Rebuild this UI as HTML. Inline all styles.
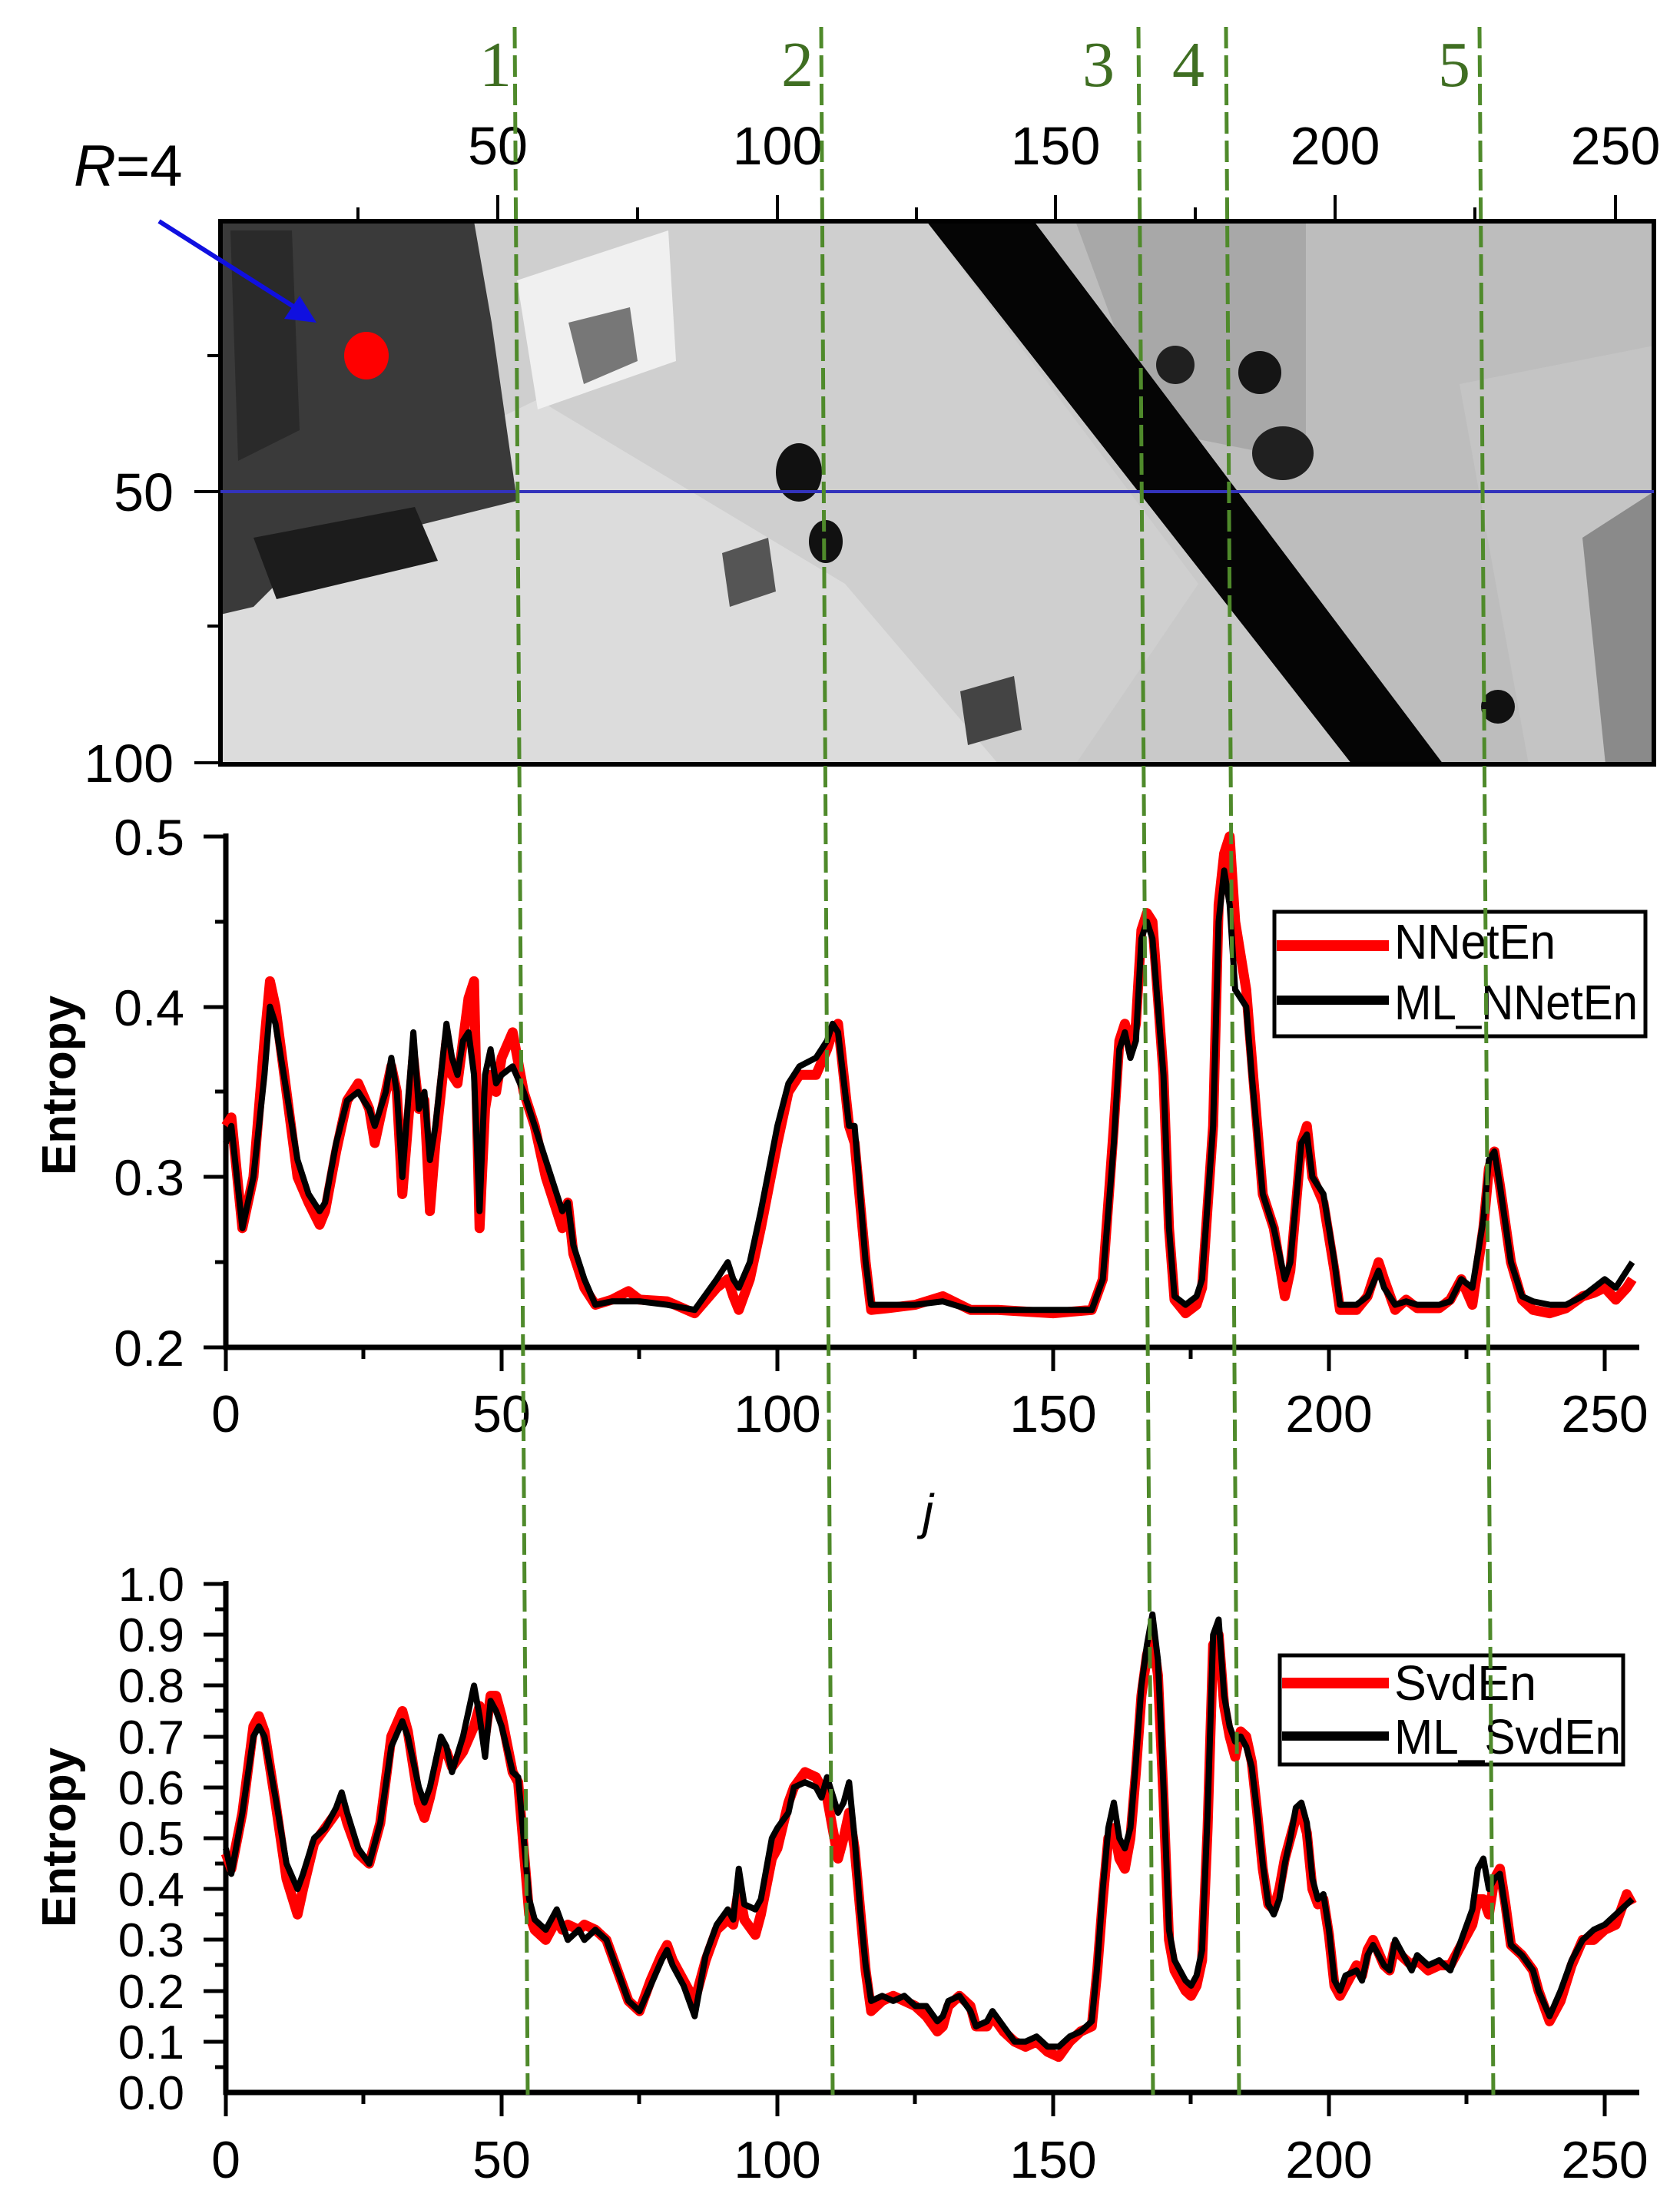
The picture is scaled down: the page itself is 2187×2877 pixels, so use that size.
<!DOCTYPE html>
<html><head><meta charset="utf-8"><style>
html,body{margin:0;padding:0;background:#fff;}
svg{display:block;}
text{font-family:"Liberation Sans",sans-serif;}
</style></head><body>
<svg width="2187" height="2877" viewBox="0 0 2187 2877" xmlns="http://www.w3.org/2000/svg">
<!-- satellite image approximation -->
<g>
<rect x="287" y="288" width="1866" height="707" fill="#c9c9c9"/>
<polygon points="287,288 1206,288 1560,760 1400,995 287,995" fill="#cfcfcf"/>
<polygon points="287,720 700,520 1100,760 1300,995 287,995" fill="#dcdcdc"/>
<polygon points="1346,288 2153,288 2153,995 1879,995" fill="#bdbdbd"/>
<polygon points="1400,288 1700,288 1700,600 1500,560" fill="#a8a8a8"/>
<polygon points="1900,500 2153,450 2153,995 1990,995" fill="#c4c4c4"/>
<polygon points="287,288 617,288 640,420 673,652 560,680 400,720 330,790 287,800" fill="#3a3a3a"/>
<polygon points="330,700 540,660 570,730 360,780" fill="#1c1c1c"/>
<polygon points="300,300 380,300 390,560 310,600" fill="#2a2a2a"/>
<polygon points="673,365 870,300 880,470 700,533" fill="#f0f0f0"/>
<polygon points="740,420 820,400 830,470 760,500" fill="#777"/>
<polygon points="1206,288 1346,288 1879,995 1760,995" fill="#050505"/>
<ellipse cx="1040" cy="615" rx="30" ry="38" fill="#111"/>
<ellipse cx="1075" cy="705" rx="22" ry="28" fill="#111"/>
<ellipse cx="1640" cy="485" rx="28" ry="28" fill="#151515"/>
<ellipse cx="1530" cy="475" rx="25" ry="25" fill="#202020"/>
<ellipse cx="1670" cy="590" rx="40" ry="35" fill="#202020"/>
<ellipse cx="1950" cy="920" rx="22" ry="22" fill="#111"/>
<polygon points="940,720 1000,700 1010,770 950,790" fill="#555"/>
<polygon points="1250,900 1320,880 1330,950 1260,970" fill="#444"/>
<polygon points="2060,700 2153,640 2153,995 2090,995" fill="#8a8a8a"/>
<rect x="287" y="288" width="1866" height="707" fill="none" stroke="#000" stroke-width="6"/>
</g>
<!-- top axis ticks -->
<g stroke="#000" stroke-width="4">
<line x1="648" y1="254" x2="648" y2="288"/><line x1="1012" y1="254" x2="1012" y2="288"/><line x1="1374" y1="254" x2="1374" y2="288"/><line x1="1738" y1="254" x2="1738" y2="288"/><line x1="2103" y1="254" x2="2103" y2="288"/>
<line x1="466" y1="270" x2="466" y2="288"/><line x1="830" y1="270" x2="830" y2="288"/><line x1="1193" y1="270" x2="1193" y2="288"/><line x1="1556" y1="270" x2="1556" y2="288"/><line x1="1920" y1="270" x2="1920" y2="288"/>
<line x1="253" y1="640" x2="287" y2="640"/><line x1="253" y1="993" x2="287" y2="993"/>
<line x1="270" y1="463" x2="287" y2="463"/><line x1="270" y1="815" x2="287" y2="815"/>
</g>
<g font-size="70" text-anchor="middle" fill="#000">
<text x="648" y="214">50</text><text x="1012" y="214">100</text><text x="1374" y="214">150</text><text x="1738" y="214">200</text><text x="2103" y="214">250</text>
</g>
<g font-size="70" text-anchor="end" fill="#000">
<text x="226" y="665">50</text><text x="226" y="1018">100</text>
</g>
<line x1="287" y1="640" x2="2153" y2="640" stroke="#3333bb" stroke-width="4"/>
<text x="96" y="242" font-size="76" font-style="italic">R<tspan font-style="normal">=4</tspan></text>
<line x1="207" y1="288" x2="390" y2="404" stroke="#1010e0" stroke-width="6"/>
<polygon points="412,420 370,415 390,385" fill="#1010e0"/>
<ellipse cx="477" cy="463" rx="29" ry="31" fill="#f00"/>

<!-- chart 1 -->
<g stroke="#000" stroke-width="7" fill="none">
<line x1="294" y1="1085" x2="294" y2="1757"/>
<line x1="291" y1="1754" x2="2134" y2="1754"/>
</g>
<g stroke="#000" stroke-width="5">
<line x1="265" y1="1089" x2="294" y2="1089"/><line x1="265" y1="1311" x2="294" y2="1311"/><line x1="265" y1="1532" x2="294" y2="1532"/><line x1="265" y1="1754" x2="294" y2="1754"/>
<line x1="280" y1="1200" x2="294" y2="1200"/><line x1="280" y1="1421" x2="294" y2="1421"/><line x1="280" y1="1643" x2="294" y2="1643"/>
<line x1="294" y1="1754" x2="294" y2="1785"/><line x1="653" y1="1754" x2="653" y2="1785"/><line x1="1012" y1="1754" x2="1012" y2="1785"/><line x1="1371" y1="1754" x2="1371" y2="1785"/><line x1="1730" y1="1754" x2="1730" y2="1785"/><line x1="2089" y1="1754" x2="2089" y2="1785"/>
<line x1="473" y1="1754" x2="473" y2="1769"/><line x1="832" y1="1754" x2="832" y2="1769"/><line x1="1191" y1="1754" x2="1191" y2="1769"/><line x1="1550" y1="1754" x2="1550" y2="1769"/><line x1="1909" y1="1754" x2="1909" y2="1769"/>
</g>
<g font-size="66" text-anchor="end"><text x="240" y="1113">0.5</text><text x="240" y="1335">0.4</text><text x="240" y="1556">0.3</text><text x="240" y="1778">0.2</text></g>
<g font-size="68" text-anchor="middle"><text x="294" y="1864">0</text><text x="653" y="1864">50</text><text x="1012" y="1864">100</text><text x="1371" y="1864">150</text><text x="1730" y="1864">200</text><text x="2089" y="1864">250</text></g>
<text transform="translate(98,1413) rotate(-90)" font-size="62" font-weight="bold" text-anchor="middle">Entropy</text>
<text x="1208" y="1990" font-size="64" font-style="italic" text-anchor="middle">j</text>

<g transform="translate(294,1754) scale(7.18,-2217)" fill="none" stroke-linejoin="round">
<polyline vector-effect="non-scaling-stroke" stroke="#f00" stroke-width="13" points="0,0.13 1,0.135 3,0.07 5,0.10 7,0.18 8,0.215 9,0.20 11,0.15 13,0.10 15,0.085 17,0.072 18,0.08 20,0.115 22,0.145 24,0.155 26,0.14 27,0.12 29,0.15 30,0.165 31,0.15 32,0.09 34,0.17 35,0.14 36,0.145 37,0.08 38,0.12 40,0.18 41,0.16 42,0.155 43,0.18 44,0.205 45,0.215 46,0.07 47,0.14 48,0.16 49,0.15 50,0.17 52,0.185 54,0.15 56,0.13 58,0.10 60,0.08 61,0.07 62,0.085 63,0.055 65,0.035 67,0.025 70,0.028 73,0.033 75,0.028 80,0.027 85,0.02 89,0.035 91,0.04 92,0.03 93,0.022 95,0.04 97,0.07 100,0.12 102,0.15 104,0.16 107,0.16 109,0.175 110,0.185 111,0.19 113,0.13 114,0.12 116,0.05 117,0.022 120,0.023 125,0.025 130,0.03 135,0.022 140,0.022 150,0.02 157,0.022 159,0.04 161,0.13 162,0.18 163,0.19 164,0.175 165,0.19 166,0.245 167,0.255 168,0.25 170,0.16 171,0.07 172,0.028 174,0.02 176,0.025 177,0.035 179,0.13 180,0.26 181,0.29 182,0.30 183,0.25 185,0.21 186,0.17 188,0.09 190,0.07 192,0.03 193,0.045 195,0.12 196,0.13 197,0.10 199,0.085 201,0.045 202,0.022 205,0.022 207,0.03 209,0.05 210,0.04 212,0.022 214,0.028 216,0.023 220,0.023 222,0.028 224,0.04 226,0.025 228,0.07 229,0.105 230,0.115 231,0.095 233,0.05 235,0.028 237,0.022 240,0.02 243,0.023 246,0.03 248,0.032 250,0.035 252,0.028 254,0.035 255,0.04"/>
<polyline vector-effect="non-scaling-stroke" stroke="#000" stroke-width="8" points="0,0.12 1,0.13 3,0.07 5,0.10 7,0.16 8,0.20 9,0.19 11,0.15 13,0.11 15,0.09 17,0.08 18,0.085 20,0.12 22,0.145 24,0.15 26,0.14 27,0.13 29,0.15 30,0.17 31,0.15 32,0.10 34,0.185 35,0.14 36,0.15 37,0.11 38,0.13 40,0.19 41,0.17 42,0.16 43,0.18 44,0.185 45,0.16 46,0.08 47,0.16 48,0.175 49,0.155 50,0.16 52,0.165 54,0.15 56,0.13 58,0.11 60,0.09 61,0.08 62,0.085 63,0.06 65,0.04 67,0.025 70,0.027 75,0.027 80,0.025 85,0.022 89,0.04 91,0.05 92,0.04 93,0.035 95,0.05 97,0.08 100,0.13 102,0.155 104,0.165 107,0.17 109,0.18 110,0.19 111,0.185 113,0.13 114,0.13 116,0.05 117,0.025 120,0.025 125,0.025 130,0.027 135,0.022 140,0.022 150,0.022 157,0.022 159,0.04 161,0.12 162,0.175 163,0.185 164,0.17 165,0.18 166,0.24 167,0.25 168,0.24 170,0.16 171,0.07 172,0.03 174,0.025 176,0.03 177,0.04 179,0.13 180,0.25 181,0.28 182,0.26 183,0.21 185,0.20 186,0.16 188,0.09 190,0.07 192,0.04 193,0.05 195,0.12 196,0.125 197,0.10 199,0.09 201,0.05 202,0.025 205,0.025 207,0.03 209,0.045 210,0.035 212,0.025 214,0.027 216,0.025 220,0.025 222,0.027 224,0.04 226,0.035 228,0.075 229,0.11 230,0.115 231,0.095 233,0.05 235,0.03 237,0.027 240,0.025 243,0.025 246,0.03 248,0.035 250,0.04 252,0.035 254,0.045 255,0.05"/>
</g>
<rect x="1659" y="1187" width="483" height="162" fill="#fff" stroke="#000" stroke-width="5"/>
<line x1="1662" y1="1231" x2="1808" y2="1231" stroke="#f00" stroke-width="14"/>
<line x1="1662" y1="1302" x2="1808" y2="1302" stroke="#000" stroke-width="12"/>
<g font-size="64"><text x="1815" y="1248" textLength="210" lengthAdjust="spacingAndGlyphs">NNetEn</text><text x="1815" y="1327" textLength="317" lengthAdjust="spacingAndGlyphs">ML_NNetEn</text></g>

<!-- chart 2 -->
<g stroke="#000" stroke-width="7" fill="none">
<line x1="294" y1="2058" x2="294" y2="2727"/>
<line x1="291" y1="2724" x2="2134" y2="2724"/>
</g>
<g stroke="#000" stroke-width="5">
<line x1="265" y1="2062" x2="294" y2="2062"/><line x1="265" y1="2128" x2="294" y2="2128"/><line x1="265" y1="2194" x2="294" y2="2194"/><line x1="265" y1="2261" x2="294" y2="2261"/><line x1="265" y1="2327" x2="294" y2="2327"/><line x1="265" y1="2393" x2="294" y2="2393"/><line x1="265" y1="2459" x2="294" y2="2459"/><line x1="265" y1="2525" x2="294" y2="2525"/><line x1="265" y1="2592" x2="294" y2="2592"/><line x1="265" y1="2658" x2="294" y2="2658"/>
<line x1="280" y1="2095" x2="294" y2="2095"/><line x1="280" y1="2161" x2="294" y2="2161"/><line x1="280" y1="2227" x2="294" y2="2227"/><line x1="280" y1="2294" x2="294" y2="2294"/><line x1="280" y1="2360" x2="294" y2="2360"/><line x1="280" y1="2426" x2="294" y2="2426"/><line x1="280" y1="2492" x2="294" y2="2492"/><line x1="280" y1="2558" x2="294" y2="2558"/><line x1="280" y1="2625" x2="294" y2="2625"/><line x1="280" y1="2691" x2="294" y2="2691"/>
<line x1="294" y1="2724" x2="294" y2="2755"/><line x1="653" y1="2724" x2="653" y2="2755"/><line x1="1012" y1="2724" x2="1012" y2="2755"/><line x1="1371" y1="2724" x2="1371" y2="2755"/><line x1="1730" y1="2724" x2="1730" y2="2755"/><line x1="2089" y1="2724" x2="2089" y2="2755"/>
<line x1="473" y1="2724" x2="473" y2="2739"/><line x1="832" y1="2724" x2="832" y2="2739"/><line x1="1191" y1="2724" x2="1191" y2="2739"/><line x1="1550" y1="2724" x2="1550" y2="2739"/><line x1="1909" y1="2724" x2="1909" y2="2739"/>
</g>
<g font-size="62" text-anchor="end"><text x="240" y="2084">1.0</text><text x="240" y="2150">0.9</text><text x="240" y="2216">0.8</text><text x="240" y="2283">0.7</text><text x="240" y="2349">0.6</text><text x="240" y="2415">0.5</text><text x="240" y="2481">0.4</text><text x="240" y="2547">0.3</text><text x="240" y="2614">0.2</text><text x="240" y="2680">0.1</text><text x="240" y="2746">0.0</text></g>
<g font-size="68" text-anchor="middle"><text x="294" y="2835">0</text><text x="653" y="2835">50</text><text x="1012" y="2835">100</text><text x="1371" y="2835">150</text><text x="1730" y="2835">200</text><text x="2089" y="2835">250</text></g>
<text transform="translate(98,2392) rotate(-90)" font-size="62" font-weight="bold" text-anchor="middle">Entropy</text>

<g transform="translate(294,2724) scale(7.18,-662)" fill="none" stroke-linejoin="round">
<polyline vector-effect="non-scaling-stroke" stroke="#f00" stroke-width="13" points="0,0.47 1,0.44 3,0.55 5,0.72 6,0.74 7,0.71 9,0.57 11,0.42 13,0.35 14,0.40 16,0.49 18,0.52 20,0.55 21,0.57 22,0.53 24,0.47 26,0.45 28,0.53 30,0.70 32,0.75 33,0.71 35,0.57 36,0.54 37,0.58 39,0.68 40,0.67 41,0.64 43,0.67 45,0.72 46,0.76 47,0.70 48,0.78 49,0.78 50,0.74 52,0.63 53,0.61 54,0.48 55,0.35 56,0.32 58,0.30 60,0.34 61,0.32 62,0.33 64,0.32 65,0.33 67,0.32 69,0.30 71,0.24 73,0.18 75,0.16 77,0.22 79,0.27 80,0.29 81,0.26 83,0.22 85,0.18 87,0.26 89,0.32 91,0.34 92,0.33 93,0.40 94,0.34 96,0.31 97,0.35 99,0.46 100,0.48 102,0.57 103,0.60 105,0.63 107,0.62 108,0.60 109,0.58 111,0.46 112,0.50 113,0.55 114,0.48 115,0.36 116,0.24 117,0.16 119,0.18 121,0.19 123,0.18 125,0.17 127,0.15 129,0.12 130,0.13 131,0.17 133,0.19 135,0.17 136,0.13 138,0.13 139,0.15 141,0.12 143,0.10 145,0.09 147,0.10 149,0.08 151,0.07 153,0.10 155,0.12 157,0.13 158,0.24 159,0.38 160,0.50 161,0.52 162,0.46 163,0.44 164,0.50 165,0.63 166,0.78 167,0.86 168,0.90 169,0.82 170,0.58 171,0.30 172,0.24 174,0.20 175,0.19 176,0.21 177,0.26 178,0.52 179,0.88 180,0.90 181,0.76 182,0.70 183,0.66 184,0.71 185,0.70 186,0.65 187,0.55 188,0.44 189,0.37 190,0.36 191,0.40 192,0.46 193,0.50 194,0.54 195,0.55 196,0.51 197,0.40 198,0.37 199,0.38 200,0.31 201,0.21 202,0.19 203,0.21 205,0.25 206,0.23 207,0.28 208,0.30 210,0.25 211,0.24 212,0.29 213,0.27 215,0.25 216,0.26 218,0.24 220,0.25 222,0.25 224,0.29 226,0.33 227,0.38 228,0.38 229,0.35 230,0.42 231,0.44 232,0.37 233,0.29 235,0.27 237,0.24 238,0.20 240,0.14 242,0.18 244,0.25 246,0.30 248,0.30 250,0.32 252,0.33 254,0.39 255,0.37"/>
<polyline vector-effect="non-scaling-stroke" stroke="#000" stroke-width="8" points="0,0.48 1,0.43 3,0.55 5,0.70 6,0.72 7,0.70 9,0.58 11,0.45 13,0.40 14,0.43 16,0.50 18,0.52 20,0.56 21,0.59 22,0.55 24,0.48 26,0.45 28,0.53 30,0.68 32,0.73 33,0.70 35,0.60 36,0.57 37,0.60 39,0.70 40,0.68 41,0.63 43,0.70 45,0.80 46,0.74 47,0.66 48,0.77 49,0.75 50,0.72 52,0.63 53,0.62 54,0.50 55,0.38 56,0.34 58,0.32 60,0.36 61,0.33 62,0.30 64,0.32 65,0.30 67,0.32 69,0.30 71,0.24 73,0.18 75,0.16 77,0.21 79,0.26 80,0.28 81,0.25 83,0.21 85,0.15 87,0.27 89,0.33 91,0.36 92,0.34 93,0.44 94,0.37 96,0.36 97,0.38 99,0.50 100,0.52 102,0.55 103,0.60 105,0.61 107,0.60 108,0.58 109,0.62 111,0.55 112,0.57 113,0.61 114,0.50 115,0.36 116,0.25 117,0.18 119,0.19 121,0.18 123,0.19 125,0.17 127,0.17 129,0.14 130,0.15 131,0.18 133,0.19 135,0.16 136,0.13 138,0.14 139,0.16 141,0.13 143,0.10 145,0.10 147,0.11 149,0.09 151,0.09 153,0.11 155,0.12 157,0.14 158,0.25 159,0.40 160,0.52 161,0.57 162,0.50 163,0.48 164,0.52 165,0.65 166,0.80 167,0.88 168,0.94 169,0.85 170,0.60 171,0.32 172,0.26 174,0.22 175,0.21 176,0.23 177,0.28 178,0.55 179,0.90 180,0.93 181,0.78 182,0.72 183,0.69 184,0.70 185,0.68 186,0.64 187,0.55 188,0.45 189,0.37 190,0.35 191,0.38 192,0.45 193,0.50 194,0.56 195,0.57 196,0.53 197,0.42 198,0.38 199,0.39 200,0.32 201,0.22 202,0.20 203,0.23 205,0.24 206,0.22 207,0.27 208,0.29 210,0.25 211,0.24 212,0.30 213,0.28 215,0.24 216,0.27 218,0.25 220,0.26 222,0.24 224,0.30 226,0.36 227,0.44 228,0.46 229,0.40 230,0.42 231,0.43 232,0.36 233,0.29 235,0.27 237,0.24 238,0.20 240,0.15 242,0.20 244,0.26 246,0.30 248,0.32 250,0.33 252,0.35 254,0.37 255,0.38"/>
</g>
<rect x="1666" y="2155" width="447" height="142" fill="#fff" stroke="#000" stroke-width="5"/>
<line x1="1669" y1="2191" x2="1808" y2="2191" stroke="#f00" stroke-width="14"/>
<line x1="1669" y1="2260" x2="1808" y2="2260" stroke="#000" stroke-width="12"/>
<g font-size="64"><text x="1815" y="2213" textLength="185" lengthAdjust="spacingAndGlyphs">SvdEn</text><text x="1815" y="2283" textLength="295" lengthAdjust="spacingAndGlyphs">ML_SvdEn</text></g>

<!-- green dashed guide lines -->
<g stroke="#4f8a2b" stroke-width="5" stroke-dasharray="28,9" fill="none">
<line x1="670" y1="35" x2="687" y2="2730"/>
<line x1="1069" y1="35" x2="1084" y2="2730"/>
<line x1="1482" y1="35" x2="1501" y2="2730"/>
<line x1="1596" y1="35" x2="1613" y2="2730"/>
<line x1="1926" y1="35" x2="1944" y2="2730"/>
</g>
<g style="font-family:'Liberation Serif',serif" font-size="84" fill="#3f6e22" text-anchor="middle">
<text x="645" y="112" style="font-family:'Liberation Serif',serif">1</text><text x="1038" y="112" style="font-family:'Liberation Serif',serif">2</text><text x="1430" y="112" style="font-family:'Liberation Serif',serif">3</text><text x="1547" y="112" style="font-family:'Liberation Serif',serif">4</text><text x="1893" y="112" style="font-family:'Liberation Serif',serif">5</text>
</g>
</svg>
</body></html>
